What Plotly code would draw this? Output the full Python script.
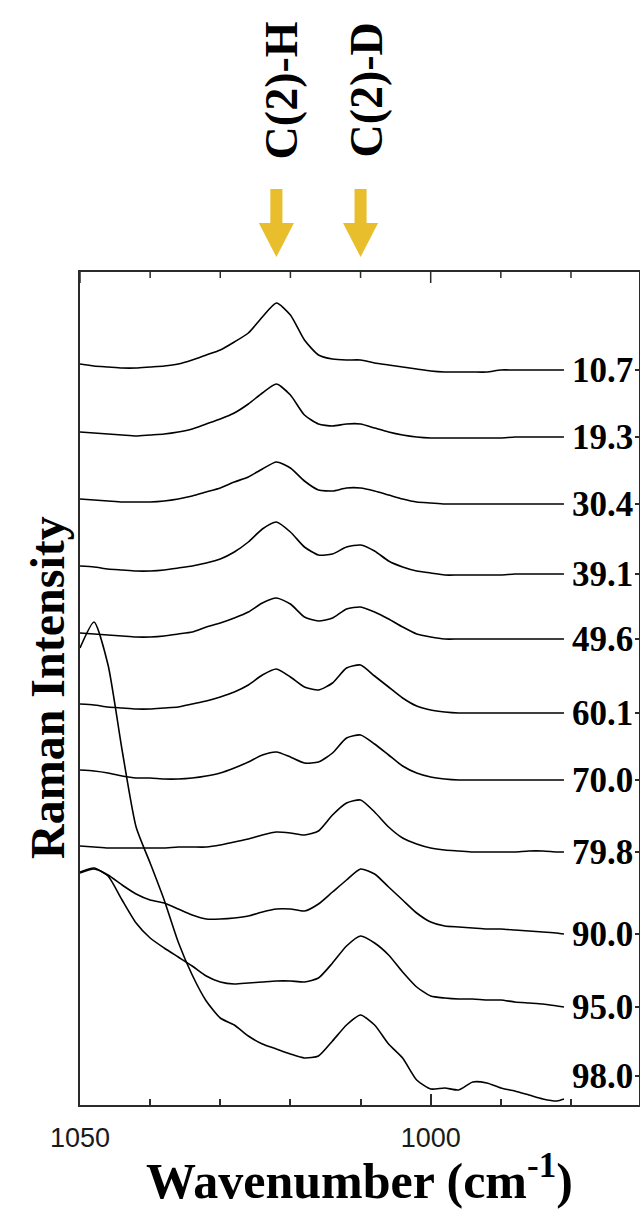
import plotly.graph_objects as go

# ---------------- data ----------------
wavenumber = [1050, 1048, 1046, 1044, 1042, 1040, 1038, 1036, 1034, 1032, 1030, 1028,
              1026, 1024, 1022, 1020, 1018, 1016, 1014, 1012, 1010, 1008, 1006, 1004,
              1002, 1000, 998, 996, 994, 992, 990, 988, 986, 984, 982, 981]

labels = ["10.7", "19.3", "30.4", "39.1", "49.6", "60.1", "70.0", "79.8", "90.0", "95.0", "98.0"]

# stacked (offset) Raman intensity, arbitrary units
s_10_7 = [741, 739, 738, 737, 737, 738, 739, 741, 745, 750, 755, 763, 772, 788, 802, 790, 765, 750,
          746, 745, 745, 742, 740, 738, 736, 734, 733, 733, 733, 733, 735, 735, 735, 735, 735, 735]
s_19_3 = [673, 672, 671, 670, 669, 670, 671, 673, 676, 681, 686, 692, 701, 712, 721, 710, 690, 681,
          679, 681, 681, 677, 673, 670, 668, 667, 667, 667, 667, 667, 667, 668, 668, 668, 668, 668]
s_30_4 = [606, 605, 604, 603, 603, 603, 604, 606, 609, 613, 617, 623, 628, 636, 643, 637, 624, 615,
          614, 617, 617, 614, 610, 606, 603, 602, 601, 601, 601, 601, 601, 601, 601, 601, 601, 601]
s_39_1 = [539, 538, 536, 535, 534, 534, 535, 537, 539, 542, 546, 553, 563, 576, 583, 573, 558, 550,
          551, 558, 560, 554, 544, 538, 534, 532, 530, 530, 530, 530, 530, 531, 531, 531, 531, 531]
s_49_6 = [472, 471, 470, 469, 468, 468, 469, 471, 473, 478, 482, 487, 493, 502, 507, 501, 488, 484,
          487, 496, 498, 493, 486, 478, 471, 468, 466, 466, 466, 466, 466, 466, 466, 466, 466, 466]
s_60_1 = [401, 400, 398, 397, 396, 396, 397, 398, 401, 404, 408, 413, 420, 430, 436, 428, 418, 415,
          422, 437, 440, 429, 418, 407, 399, 395, 393, 392, 392, 392, 392, 392, 392, 392, 392, 392]
s_70_0 = [335, 334, 332, 329, 327, 327, 326, 326, 327, 329, 332, 337, 343, 350, 353, 348, 342, 343,
          352, 367, 370, 361, 350, 339, 332, 328, 326, 325, 325, 325, 325, 325, 325, 325, 325, 325]
s_79_8 = [259, 258, 257, 257, 257, 257, 257, 258, 258, 258, 260, 263, 266, 270, 273, 272, 270, 274,
          290, 302, 305, 293, 278, 267, 261, 257, 255, 254, 253, 253, 253, 253, 254, 254, 253, 253]
s_90_0 = [232, 236, 230, 220, 211, 205, 202, 196, 190, 186, 186, 187, 189, 193, 196, 196, 194, 201,
          213, 225, 236, 231, 218, 205, 192, 183, 179, 178, 177, 176, 176, 175, 174, 173, 172, 171]
s_95_0 = [233, 237, 229, 205, 182, 167, 157, 148, 139, 129, 123, 121, 122, 123, 124, 124, 123, 127,
          142, 159, 169, 162, 150, 133, 118, 109, 107, 106, 106, 105, 105, 103, 102, 101, 99, 98]
s_98_0 = [457, 483, 440, 355, 278, 242, 205, 163, 130, 104, 87, 80, 69, 61, 56, 51, 47, 49,
          64, 80, 90, 80, 61, 47, 25, 16, 17, 15, 23, 22, 17, 14, 10, 6, 4, 6]

spectra = [s_10_7, s_19_3, s_30_4, s_39_1, s_49_6, s_60_1, s_70_0, s_79_8, s_90_0, s_95_0, s_98_0]

band_names = ["C(2)-H", "C(2)-D"]
band_positions = [1022, 1010]

major_ticks = [1050, 1000]
major_tick_text = ["1050", "1000"]
minor_ticks = [1040, 1030, 1020, 1010, 990, 980]

# ---------------- styling / layout ----------------
W, H = 640, 1212
ML, MR, MT, MB = 80, 1, 272, 107
X_RANGE = [1050, 970.3]
Y_RANGE = [0, 833]
PLOT_H = H - MT - MB
PLOT_W = W - ML - MR

SERIF = "Liberation Serif, Times New Roman, serif"
SANS = "Liberation Sans, Arial, sans-serif"
AX_COLOR = "#2b2b2b"
GOLD = "#E8BE2C"
MAJOR_LEN, MINOR_LEN = 11, 6


def paper_y(py):
    return (H - MB - py) / PLOT_H


def paper_x(px):
    return (px - ML) / PLOT_W


label_offsets = [0, 0, 0, 0, 0, 0, 0, 0, 0, 0, 23]
label_y = [s[-1] + off for s, off in zip(spectra, label_offsets)]

fig = go.Figure()
for name, ys in zip(labels, spectra):
    fig.add_trace(go.Scatter(
        x=wavenumber, y=ys, mode="lines", name=name,
        line=dict(color="black", width=1.6, shape="spline", smoothing=0.6),
        hoverinfo="skip",
    ))

annotations = []
for name, yv in zip(labels, label_y):
    annotations.append(dict(
        x=paper_x(635), xref="paper", xanchor="right",
        y=yv, yref="y", yanchor="middle",
        text=name, showarrow=False,
        font=dict(family=SERIF, size=35, color="black", weight="bold"),
    ))

shapes = []
# mirrored ticks on the top frame edge (pointing inward)
for tv in major_ticks + minor_ticks:
    ln = MAJOR_LEN if tv in major_ticks else MINOR_LEN
    shapes.append(dict(type="line", xref="x", yref="paper", x0=tv, x1=tv,
                       y0=1, y1=1 - ln / PLOT_H,
                       line=dict(color=AX_COLOR, width=1.5), layer="above"))

# band labels and arrows
for name, c in zip(band_names, band_positions):
    annotations.append(dict(
        x=c, xref="x", xshift=5, xanchor="center",
        y=paper_y(90), yref="paper", yanchor="middle",
        text=name, textangle=-90, showarrow=False,
        font=dict(family=SERIF, size=46, color="black", weight="bold"),
    ))
    sw, hw = 0.86, 2.5
    y_top, y_mid, y_tip = paper_y(189), paper_y(223), paper_y(257)
    path = (f"M {c - sw},{y_top} L {c + sw},{y_top} L {c + sw},{y_mid} L {c + hw},{y_mid} "
            f"L {c},{y_tip} L {c - hw},{y_mid} L {c - sw},{y_mid} Z")
    shapes.append(dict(type="path", path=path, xref="x", yref="paper",
                       fillcolor=GOLD, line=dict(width=0), layer="above"))

# axis titles
annotations.append(dict(
    x=0.5, xref="paper", xanchor="center",
    y=paper_y(1211), yref="paper", yanchor="bottom",
    text="Wavenumber (cm<sup>-1</sup>)", showarrow=False,
    font=dict(family=SERIF, size=50, color="black", weight="bold"),
))
annotations.append(dict(
    x=paper_x(47), xref="paper", xanchor="center",
    y=paper_y(688), yref="paper", yanchor="middle",
    text="Raman Intensity", textangle=-90, showarrow=False,
    font=dict(family=SERIF, size=48, color="black", weight="bold"),
))

fig.update_layout(
    width=W, height=H,
    margin=dict(l=ML, r=MR, t=MT, b=MB, pad=0),
    paper_bgcolor="white", plot_bgcolor="white",
    showlegend=False,
    annotations=annotations,
    shapes=shapes,
    xaxis=dict(
        range=X_RANGE, showgrid=False, zeroline=False,
        showline=True, linecolor=AX_COLOR, linewidth=2, mirror=True,
        ticks="inside", ticklen=MAJOR_LEN, tickwidth=1.5, tickcolor=AX_COLOR,
        tickmode="array", tickvals=major_ticks, ticktext=major_tick_text,
        minor=dict(ticks="inside", tickmode="array", tickvals=minor_ticks,
                   ticklen=MINOR_LEN, tickwidth=1.5, tickcolor=AX_COLOR, showgrid=False),
        tickfont=dict(family=SANS, size=27, color="#1a1a1a"),
        ticklabelstandoff=8,
    ),
    yaxis=dict(
        range=Y_RANGE, showgrid=False, zeroline=False, side="right",
        showline=True, linecolor=AX_COLOR, linewidth=2, mirror=True,
        ticks="inside", ticklen=4, tickwidth=1.5, tickcolor=AX_COLOR,
        tickmode="array", tickvals=label_y, showticklabels=False,
    ),
)

fig.write_html("out.html")
